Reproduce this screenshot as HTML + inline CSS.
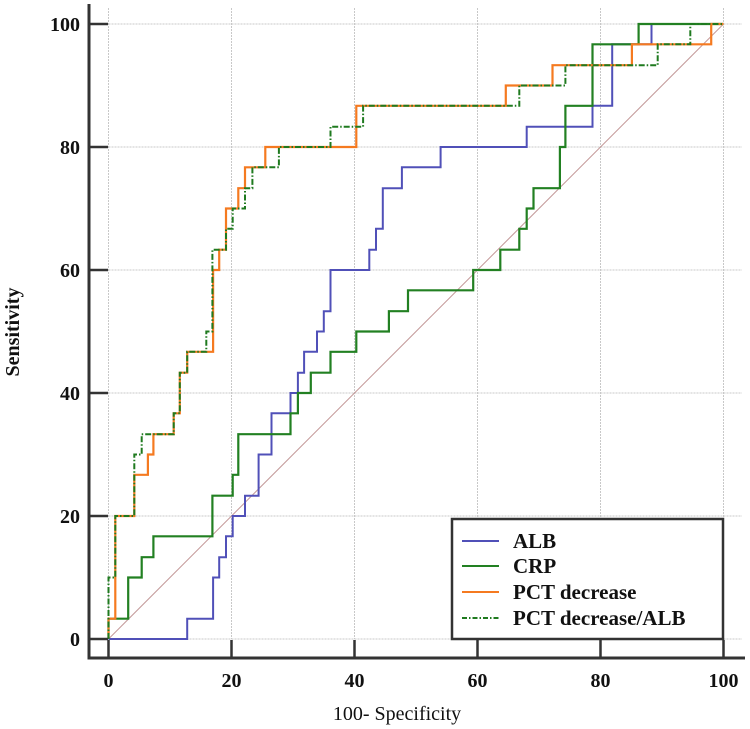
<!DOCTYPE html>
<html><head><meta charset="utf-8"><style>
html,body{margin:0;padding:0;background:#fff;}
svg{display:block;}
text{font-family:"Liberation Serif",serif;fill:#111;}
</style></head><body>
<svg id="chart" width="750" height="729" viewBox="0 0 750 729" xmlns="http://www.w3.org/2000/svg">
<g id="grid"></g>
<line id="diag" stroke="#c49a9a" stroke-width="1"/>
<g id="series"></g>
<g id="axes"></g>
<text transform="translate(19,332) rotate(-90)" text-anchor="middle" font-size="20" font-weight="bold">Sensitivity</text>
<text x="397" y="720" text-anchor="middle" font-size="20">100- Specificity</text>
<g id="legend"></g>
</svg>
<script>
const xTicks = [0,20,40,60,80,100];
const yTicks = [0,20,40,60,80,100];
const seriesNames = ["ALB","CRP","PCT decrease","PCT decrease/ALB"];
const albX = [0,12.8,12.8,17,17,18,18,19.1,19.1,20.2,20.2,22.2,22.2,24.4,24.4,26.5,26.5,29.6,29.6,30.8,30.8,31.8,31.8,33.9,33.9,35,35,36.1,36.1,42.4,42.4,43.5,43.5,44.6,44.6,47.7,47.7,54,54,68,68,78.7,78.7,81.9,81.9,88.3,88.3,100];
const albY = [0,0,3.3,3.3,10,10,13.3,13.3,16.7,16.7,20,20,23.3,23.3,30,30,36.7,36.7,40,40,43.3,43.3,46.7,46.7,50,50,53.3,53.3,60,60,63.3,63.3,66.7,66.7,73.3,73.3,76.7,76.7,80,80,83.3,83.3,86.7,86.7,96.7,96.7,100,100];
const crpX = [0,0,3.2,3.2,5.4,5.4,7.3,7.3,16.9,16.9,20.2,20.2,21.1,21.1,29.6,29.6,30.8,30.8,32.9,32.9,36.1,36.1,40.3,40.3,45.6,45.6,48.7,48.7,59.3,59.3,63.7,63.7,66.8,66.8,68,68,69.1,69.1,73.4,73.4,74.3,74.3,78.7,78.7,86.2,86.2,100];
const crpY = [0,3.3,3.3,10,10,13.3,13.3,16.7,16.7,23.3,23.3,26.7,26.7,33.3,33.3,36.7,36.7,40,40,43.3,43.3,46.7,46.7,50,50,53.3,53.3,56.7,56.7,60,60,63.3,63.3,66.7,66.7,70,70,73.3,73.3,80,80,86.7,86.7,96.7,96.7,100,100];
const pctX = [0,0,1.1,1.1,4.2,4.2,6.4,6.4,7.3,7.3,10.6,10.6,11.6,11.6,12.8,12.8,17,17,18,18,19.1,19.1,21.1,21.1,22.2,22.2,25.5,25.5,40.3,40.3,64.6,64.6,72.2,72.2,85.1,85.1,98,98,100];
const pctY = [0,3.3,3.3,20,20,26.7,26.7,30,30,33.3,33.3,36.7,36.7,43.3,43.3,46.7,46.7,60,60,63.3,63.3,70,70,73.3,73.3,76.7,76.7,80,80,86.7,86.7,90,90,93.3,93.3,96.7,96.7,100,100];
const ratioX = [0,0,1.1,1.1,4.2,4.2,5.4,5.4,10.6,10.6,11.6,11.6,12.8,12.8,15.9,15.9,16.9,16.9,19.1,19.1,20.2,20.2,22.2,22.2,23.4,23.4,27.7,27.7,36.1,36.1,41.4,41.4,66.8,66.8,74.3,74.3,89.3,89.3,94.6,94.6,100];
const ratioY = [0,10,10,20,20,30,30,33.3,33.3,36.7,36.7,43.3,43.3,46.7,46.7,50,50,63.3,63.3,66.7,66.7,70,70,73.3,73.3,76.7,76.7,80,80,83.3,83.3,86.7,86.7,90,90,93.3,93.3,96.7,96.7,100,100];

const NS="http://www.w3.org/2000/svg";
const X0=108.5, X1=723.5, Y0=639, Y1=24;
const sx=v=>X0+(X1-X0)*v/100;
const sy=v=>Y0-(Y0-Y1)*v/100;
function mk(tag,attrs,parent){const e=document.createElementNS(NS,tag);for(const k in attrs)e.setAttribute(k,attrs[k]);parent.appendChild(e);return e;}

const grid=document.getElementById('grid');
xTicks.forEach(t=>{const l=mk('line',{x1:sx(t),x2:sx(t),y1:8,y2:Y0,stroke:'#c8c8c8','stroke-width':1,'stroke-dasharray':'2,1'},grid);

});
yTicks.forEach(t=>{const l=mk('line',{x1:X0,x2:742,y1:sy(t),y2:sy(t),stroke:'#c8c8c8','stroke-width':1,'stroke-dasharray':'2,1'},grid);

});

const d=document.getElementById('diag');
d.setAttribute('x1',sx(0));d.setAttribute('y1',sy(0));d.setAttribute('x2',sx(100));d.setAttribute('y2',sy(100));

const ser=document.getElementById('series');
function path(xs,ys,color,dash,name,w){
  let s='';xs.forEach((x,i)=>{s+=(i?'L':'M')+sx(x).toFixed(1)+','+sy(ys[i]).toFixed(1);});
  const p=mk('path',{d:s,fill:'none',stroke:color,'stroke-width':w},ser);
  if(dash)p.setAttribute('stroke-dasharray',dash);
  
  
}
path(albX,albY,'#5050b8',null,'alb-curve',2);
path(crpX,crpY,'#228022',null,'crp-curve',2.2);
path(pctX,pctY,'#f57a20',null,'pct-decrease-curve',2.2);
path(ratioX,ratioY,'#1f7a1f','6,2,1.5,2','pct-decrease-alb-curve',2);

const ax=document.getElementById('axes');
mk('line',{x1:89,x2:89,y1:4,y2:659.5,stroke:'#333','stroke-width':3},ax);
mk('line',{x1:87.5,x2:745,y1:658,y2:658,stroke:'#333','stroke-width':3},ax);
xTicks.forEach(t=>{
  mk('line',{x1:sx(t),x2:sx(t),y1:640,y2:658,stroke:'#333','stroke-width':2.5},ax);
  const tx=mk('text',{x:sx(t),y:687,'text-anchor':'middle','font-size':20,'font-weight':'bold'},ax);
  tx.textContent=t;
  
  
});
yTicks.forEach(t=>{
  mk('line',{x1:89,x2:108,y1:sy(t),y2:sy(t),stroke:'#333','stroke-width':2.5},ax);
  const tx=mk('text',{x:80,y:sy(t)+7,'text-anchor':'end','font-size':20,'font-weight':'bold'},ax);
  tx.textContent=t;
  
  
});

const lg=document.getElementById('legend');
mk('rect',{x:452,y:519,width:271,height:120,fill:'#fff',stroke:'#333','stroke-width':2.5},lg);
const lc=[['#5050b8',null],['#228022',null],['#f57a20',null],['#1f7a1f','5,2,1.5,2']];
const ly=[541,566,592,618];
seriesNames.forEach((n,i)=>{
  const l=mk('line',{x1:462,x2:499,y1:ly[i],y2:ly[i],stroke:lc[i][0],'stroke-width':2},lg);
  if(lc[i][1])l.setAttribute('stroke-dasharray',lc[i][1]);
  const t=mk('text',{x:513,y:ly[i]+7,'font-size':21,'font-weight':'bold'},lg);
  t.textContent=n;
  
  
});
</script>
</body></html>
